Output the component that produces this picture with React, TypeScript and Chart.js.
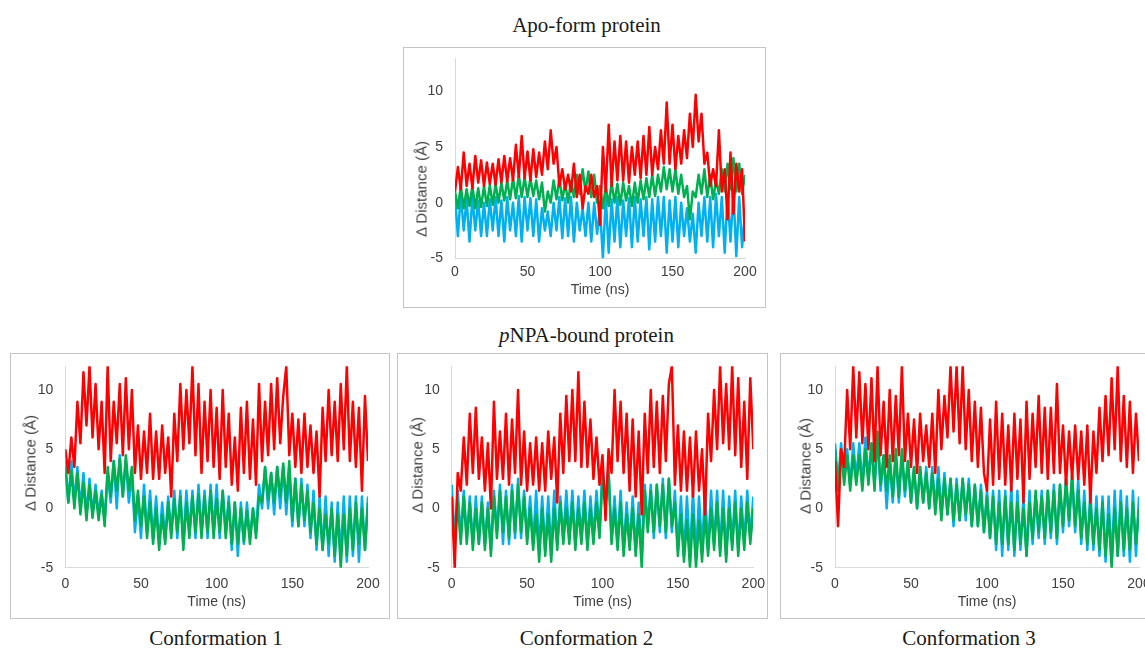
import React, { useEffect, useRef } from "react";
import { Chart, registerables } from "chart.js";

Chart.register(...registerables);

// ---------- data (sampled every 2 ns, values in Å) ----------
const TIME_NS = Array.from({ length: 101 }, (_, i) => i * 2);
const Y_AXIS_LABEL = "\u0394 Distance (\u00c5)";
const X_AXIS_LABEL = "Time (ns)";

const APO_RED = [
  1.0, 3.2, 1.2, 4.5, 1.5, 3.5, 1.3, 4.2, 1.8, 3.8,
  1.5, 3.6, 1.7, 3.5, 1.6, 3.9, 1.8, 4.2, 1.9, 4.0,
  2.0, 5.2, 2.3, 6.0, 2.2, 4.6, 2.0, 4.8, 2.3, 4.5,
  2.5, 5.5, 3.0, 6.5, 3.5, 5.0, 1.5, 3.0, 1.2, 2.5,
  1.0, 3.5, 0.5, 2.5, -0.5, 1.5, 0.8, 2.5, 0.5, 1.5,
  -2.0, 5.0, 1.0, 7.0, 1.5, 5.5, 2.0, 6.0, 2.0, 5.5,
  1.8, 5.0, 2.5, 5.5, 2.2, 6.0, 2.5, 6.8, 2.5, 5.0,
  3.0, 6.5, 3.5, 9.0, 3.5, 7.0, 3.0, 6.0, 3.5, 6.5,
  4.0, 8.0, 5.0, 9.7, 5.5, 8.0, 3.5, 4.5, 1.5, 3.0,
  1.5, 6.5, 1.0, 3.0, -1.5, 4.5, -1.0, 3.5, 1.0, 3.0,
  -3.5,
];
const APO_GREEN = [
  1.0, -0.5, 1.5, -0.5, 1.2, -0.3, 1.5, -0.5, 1.3, -0.4,
  1.5, -0.3, 1.6, -0.2, 1.7, 0.0, 1.8, 0.2, 2.0, 0.3,
  2.2, 0.4, 2.5, 0.5, 2.3, 0.5, 2.2, 0.6, 2.0, 0.3,
  1.8, -0.8, 1.0, 0.0, 2.0, 0.3, 2.2, 0.2, 1.8, 0.0,
  2.0, 0.5, 2.5, 0.8, 3.0, 1.0, 2.8, 0.5, 2.5, 0.0,
  1.5, -0.5, 1.5, -0.3, 1.8, 0.0, 1.7, -0.2, 1.8, 0.2,
  1.5, -0.3, 1.8, 0.0, 2.0, 0.3, 2.2, 0.5, 2.5, 0.6,
  2.5, 1.0, 3.2, 1.2, 3.0, 1.0, 3.0, 0.8, 2.5, 0.5,
  1.5, -1.5, 1.0, 0.5, 2.5, 0.8, 3.0, 0.5, 2.5, 0.3,
  2.0, 0.8, 3.0, 1.0, 3.5, 1.2, 4.0, 1.0, 3.5, 0.8,
  2.5,
];
const APO_BLUE = [
  0.5, -3.0, 0.8, -2.5, 0.3, -3.5, 0.5, -2.5, 0.2, -3.0,
  0.0, -3.0, 0.3, -2.5, 0.5, -3.0, 0.2, -3.5, 0.5, -2.5,
  0.0, -3.0, 0.6, -3.5, 0.5, -2.5, 0.4, -3.0, 0.3, -3.5,
  -0.5, -2.5, -0.8, -3.0, 0.0, -2.5, 0.5, -3.2, 0.4, -3.0,
  0.5, -3.5, 0.0, -2.5, -0.5, -3.0, 0.0, -3.5, 0.0, -2.8,
  -0.5, -5.0, 0.5, -4.5, 0.3, -3.5, 0.5, -4.0, 0.2, -3.0,
  0.4, -4.0, 0.5, -3.5, 0.3, -3.0, 0.5, -4.2, 0.3, -3.5,
  0.5, -3.0, 0.5, -4.5, 0.2, -3.5, 0.5, -4.0, 0.0, -3.0,
  -0.5, -3.5, -1.0, -4.5, 0.0, -3.0, 0.5, -3.5, 0.5, -4.0,
  0.8, -3.0, 0.5, -4.5, 0.8, -3.5, 1.0, -4.8, 0.5, -4.0,
  -1.0,
];

const C1_RED = [
  5.0, 3.0, 6.0, 3.5, 9.0, 5.5, 11.5, 7.0, 12.0, 6.0,
  10.5, 5.0, 9.0, 3.0, 12.0, 4.0, 9.0, 5.5, 10.5, 4.5,
  11.0, 5.0, 10.0, 3.0, 7.0, 2.5, 6.5, 3.0, 8.0, 2.5,
  6.5, 2.5, 7.0, 3.0, 6.0, 1.0, 8.0, 4.0, 10.5, 5.0,
  10.0, 5.5, 12.0, 4.5, 10.5, 3.0, 9.0, 4.0, 10.0, 3.5,
  8.5, 2.5, 10.0, 3.5, 8.0, 2.0, 6.0, 1.5, 8.5, 3.0,
  9.0, 2.5, 7.5, 2.0, 10.5, 4.0, 9.0, 4.5, 10.5, 5.0,
  11.0, 5.5, 9.5, 12.0, 4.5, 8.0, 3.5, 7.5, 3.0, 8.0,
  3.5, 7.0, 3.0, 6.5, 1.0, 8.5, 4.0, 10.0, 4.5, 9.0,
  4.0, 10.5, 5.0, 12.0, 4.0, 9.0, 3.5, 8.5, 1.5, 9.5,
  4.0,
];
const C1_GREEN = [
  3.5, 0.5, 3.2, 0.0, 3.0, -0.5, 2.2, -1.0, 2.0, -0.8,
  1.5, -1.0, 1.2, -1.5, 3.5, 1.0, 4.0, 1.5, 4.2, 1.0,
  4.5, 1.5, 3.5, -1.0, 1.5, -1.5, 1.0, -2.5, 0.5, -3.0,
  0.0, -3.5, -0.5, -3.0, 0.5, -2.5, 0.8, -2.0, 1.0, -3.5,
  0.5, -2.5, 1.0, -2.0, 1.2, -2.5, 1.0, -2.0, 1.5, -2.5,
  0.8, -2.0, 1.5, -2.5, 0.5, -3.0, 0.5, -3.0, 0.0, -2.8,
  -0.2, -3.0, 0.0, -2.5, 1.0, 0.5, 3.5, 0.8, 3.0, 0.5,
  3.5, 1.0, 3.8, 0.5, 4.0, -1.0, 2.5, -1.5, 2.0, -1.0,
  1.5, -2.0, 0.5, -3.0, 0.0, -3.5, -0.5, -3.0, 0.0, -4.0,
  -0.5, -5.0, -0.5, -4.0, 0.0, -3.5, 0.5, -3.0, 0.0, -3.5,
  0.5,
];
const C1_BLUE = [
  4.0, 0.5, 4.0, 0.5, 3.5, 0.0, 3.0, -0.5, 2.5, -0.5,
  2.0, -0.5, 1.5, -1.0, 3.0, 0.5, 4.0, 0.0, 4.5, 1.0,
  4.0, 0.5, 3.0, -2.0, 1.0, -2.5, 2.0, -2.0, 1.5, -2.5,
  1.0, -3.0, 0.5, -2.5, 1.0, -2.0, 1.5, -2.5, 1.5, -3.0,
  1.5, -2.0, 1.5, -2.5, 2.0, -2.0, 1.5, -2.5, 2.0, -2.0,
  2.0, -2.5, 1.5, -2.0, 1.0, -3.5, 0.5, -4.0, 0.5, -3.0,
  0.5, -2.5, 0.0, -2.0, 2.0, 0.0, 3.5, 0.0, 3.0, -0.5,
  3.5, 0.0, 3.5, -0.5, 3.0, -1.5, 2.5, -1.5, 2.5, -1.5,
  2.0, -2.5, 1.5, -3.5, 1.0, -3.5, 1.0, -4.0, 0.5, -4.5,
  0.5, -4.0, 1.0, -4.5, 1.0, -4.0, 1.0, -4.5, 1.0, -3.5,
  1.0,
];

const C2_RED = [
  1.0, -5.0, 3.0, 1.5, 6.0, 2.0, 8.0, 3.0, 8.5, 2.5,
  6.0, 1.5, 5.5, 0.0, 9.0, 2.5, 6.5, 2.5, 8.0, 2.0,
  7.5, 3.0, 10.0, 2.0, 6.5, 1.5, 5.5, 2.0, 6.0, 1.5,
  5.5, 1.5, 6.5, 2.5, 6.0, 0.5, 8.0, 3.0, 9.5, 4.0,
  10.0, 4.0, 11.5, 3.5, 9.0, 3.5, 7.5, 2.5, 6.0, 2.0,
  4.5, -1.0, 5.0, 3.0, 10.0, 4.0, 9.0, 3.0, 8.0, 1.5,
  7.5, 1.0, 6.5, -0.5, 8.0, 3.0, 10.0, 3.5, 9.0, 3.0,
  9.5, 4.0, 10.5, 12.0, 2.0, 7.0, 1.5, 6.5, 1.5, 6.0,
  1.0, 6.5, 1.5, 5.0, -0.5, 8.0, 4.0, 10.0, 5.0, 12.0,
  5.5, 10.5, 5.0, 12.0, 4.5, 11.0, 3.5, 9.0, 2.5, 11.0,
  5.0,
];
const C2_GREEN = [
  1.0, -3.5, 0.5, -3.0, 1.0, -3.0, 0.5, -3.5, 0.0, -3.0,
  0.5, -3.5, 0.0, -4.0, 1.0, -2.5, 1.5, -2.0, 1.0, -2.5,
  1.5, -2.0, 2.0, -2.0, 1.0, -3.0, 0.0, -3.5, -0.5, -4.5,
  0.0, -4.0, -0.5, -4.5, 0.0, -3.5, 0.5, -3.0, 0.0, -3.0,
  0.5, -3.5, 0.0, -3.0, 0.5, -3.5, 0.0, -3.0, 0.5, -2.5,
  2.5, 0.0, 3.0, -3.0, 0.0, -3.5, 0.5, -4.0, -0.5, -3.5,
  0.0, -4.0, -0.5, -5.0, 1.5, -2.0, 1.5, -2.0, 2.0, -1.5,
  2.0, -2.0, 2.5, -1.5, 0.5, -4.0, -0.5, -4.5, -1.0, -5.0,
  -0.5, -5.0, -1.0, -4.5, -0.5, -4.0, 0.0, -3.5, 0.5, -4.0,
  0.0, -4.5, 0.0, -3.5, 0.5, -4.0, 0.0, -3.5, 0.5, -3.0,
  0.0,
];
const C2_BLUE = [
  2.0, -2.5, 1.5, -2.5, 1.5, -2.5, 1.0, -3.0, 1.0, -3.0,
  1.0, -3.0, 0.5, -3.5, 1.5, -2.0, 2.0, -3.0, 1.5, -3.0,
  2.0, -2.5, 2.5, -2.5, 1.5, -2.5, 1.0, -3.0, 1.5, -3.5,
  1.0, -3.5, 1.0, -3.5, 1.5, -3.0, 1.0, -2.5, 1.5, -2.5,
  1.5, -3.0, 1.0, -2.5, 1.5, -3.0, 1.0, -2.5, 1.5, -2.0,
  3.5, 0.5, 3.5, -2.5, 1.0, -3.0, 1.5, -3.5, 0.5, -3.0,
  1.0, -3.5, 0.5, -4.0, 2.0, -1.5, 2.0, -2.5, 2.0, -2.0,
  2.5, -2.5, 2.5, -2.0, 1.5, -3.5, 1.0, -4.0, 1.0, -4.0,
  1.5, -4.0, 1.0, -3.5, 1.5, -3.5, 1.5, -3.0, 1.5, -3.5,
  1.5, -4.0, 1.0, -3.0, 1.5, -3.5, 1.0, -3.0, 1.5, -2.5,
  1.0,
];

const C3_RED = [
  4.0, -1.5, 5.0, 3.5, 10.0, 5.0, 12.0, 6.0, 11.5, 5.5,
  10.5, 5.0, 11.0, 4.0, 12.0, 4.5, 9.0, 3.5, 10.0, 4.0,
  9.5, 4.5, 12.0, 4.0, 8.0, 3.5, 7.5, 3.0, 8.0, 4.0,
  7.0, 3.5, 8.0, 3.0, 10.0, 5.0, 9.5, 6.0, 12.0, 6.5,
  12.0, 5.5, 12.0, 5.0, 10.0, 4.0, 9.0, 3.5, 8.5, 3.0,
  1.5, 7.5, 2.0, 9.0, 2.5, 8.0, 2.0, 7.0, 1.5, 8.0,
  2.5, 7.5, 0.5, 9.0, 2.5, 8.0, 3.5, 9.5, 3.0, 8.5,
  2.5, 8.5, 3.0, 10.5, 3.0, 7.0, 2.0, 6.5, 2.5, 7.0,
  2.5, 6.5, 2.0, 7.0, 0.5, 6.5, 3.0, 8.5, 4.0, 9.5,
  4.5, 11.0, 5.0, 12.0, 4.0, 9.5, 3.5, 9.0, 3.0, 8.0,
  4.0,
];
const C3_GREEN = [
  5.0, 1.5, 5.0, 2.0, 4.5, 1.5, 4.5, 2.0, 4.5, 1.5,
  5.0, 2.0, 5.5, 1.5, 6.5, 2.0, 4.5, 1.5, 4.5, 1.0,
  5.0, 1.0, 5.0, 1.5, 4.0, 0.5, 3.5, 0.0, 3.5, 0.5,
  3.0, 0.0, 3.0, -0.5, 2.5, -1.0, 2.5, -0.5, 2.5, -1.0,
  2.0, -1.0, 2.5, -0.5, 2.0, -1.5, 2.0, -1.5, 1.5, -2.0,
  1.0, -2.5, 1.0, -3.0, 0.5, -3.0, 1.0, -3.0, 0.5, -3.5,
  0.5, -3.0, 0.0, -4.0, 0.5, -2.5, 1.5, -2.0, 1.0, -2.5,
  1.5, -2.0, 1.5, -2.5, 2.0, -1.5, 2.5, -1.0, 3.0, -1.5,
  1.5, -2.5, 0.5, -3.0, 0.5, -3.0, 0.0, -3.5, 0.5, -4.0,
  -0.5, -5.0, 0.0, -4.0, 0.5, -3.5, 0.0, -3.5, 0.5, -3.0,
  0.0,
];
const C3_BLUE = [
  5.5, 2.0, 5.5, 2.5, 5.0, 2.0, 5.5, 2.5, 5.5, 2.0,
  6.0, 2.5, 5.5, 2.0, 6.0, 1.5, 4.5, 0.0, 4.0, 0.5,
  4.5, 0.5, 4.5, 1.0, 4.0, 0.5, 3.5, 0.0, 3.5, 0.5,
  3.5, 0.0, 3.5, 0.0, 3.5, -0.5, 3.0, -0.5, 2.5, -1.5,
  2.5, -1.0, 2.5, -1.0, 2.5, -1.5, 2.0, -1.5, 2.0, -2.0,
  1.5, -2.5, 1.5, -3.5, 1.5, -4.0, 1.5, -3.5, 2.0, -4.0,
  1.5, -3.5, 1.0, -4.0, 1.5, -3.0, 1.0, -2.5, 1.5, -3.0,
  1.5, -2.5, 2.0, -3.0, 2.0, -2.0, 2.5, -1.5, 2.5, -2.0,
  2.5, -3.0, 1.5, -3.5, 1.5, -3.5, 1.0, -4.0, 1.0, -4.5,
  1.0, -4.5, 1.5, -4.0, 1.5, -4.0, 1.0, -4.5, 1.5, -4.0,
  1.0,
];

// ---------- styles ----------
const RED = "#FF0000";
const GREEN = "#00B050";
const BLUE = "#00B0F0";
const TEXT = "#404040";
const AXIS = "#D9D9D9";
const FRAME = "#C4C4C4";
const SANS = "'Liberation Sans', Arial, sans-serif";
const SERIF = "'Liberation Serif', 'Times New Roman', serif";

type PanelSpec = {
  red: number[];
  green: number[];
  blue: number[];
  yMax: number;
  box: { left: number; top: number; width: number; height: number };
  yAxisWidth: number;
  xAxisHeight: number;
  padTop: number;
  padRight: number;
  xTickPad: number;
  xTitlePad: number;
  yTitle: { x: number; y: number };
};

const PANELS: PanelSpec[] = [
  {
    red: APO_RED, green: APO_GREEN, blue: APO_BLUE, yMax: 13,
    box: { left: 403, top: 47, width: 363, height: 261 },
    yAxisWidth: 51, xAxisHeight: 48.7, padTop: 10, padRight: 20,
    xTickPad: 5, xTitlePad: 8, yTitle: { x: 420.5, y: 189 },
  },
  {
    red: C1_RED, green: C1_GREEN, blue: C1_BLUE, yMax: 12,
    box: { left: 10, top: 353, width: 380, height: 266 },
    yAxisWidth: 54.3, xAxisHeight: 50.3, padTop: 12.3, padRight: 21,
    xTickPad: 8.5, xTitlePad: 7.6, yTitle: { x: 29.5, y: 463 },
  },
  {
    red: C2_RED, green: C2_GREEN, blue: C2_BLUE, yMax: 12,
    box: { left: 397, top: 353, width: 371, height: 266 },
    yAxisWidth: 53.7, xAxisHeight: 50.3, padTop: 12.3, padRight: 13.7,
    xTickPad: 8.5, xTitlePad: 7.6, yTitle: { x: 417, y: 465 },
  },
  {
    red: C3_RED, green: C3_GREEN, blue: C3_BLUE, yMax: 12,
    box: { left: 780, top: 353, width: 380, height: 266 },
    yAxisWidth: 54, xAxisHeight: 50.3, padTop: 12.3, padRight: 20,
    xTickPad: 8.5, xTitlePad: 7.6, yTitle: { x: 805, y: 466 },
  },
];

function Panel({ spec }: { spec: PanelSpec }) {
  const ref = useRef<HTMLCanvasElement | null>(null);
  const cw = spec.box.width - 2;
  const ch = spec.box.height - 2;

  useEffect(() => {
    if (!ref.current) return;
    const mk = (label: string, vals: number[], color: string) => ({
      label,
      data: vals.map((y, i) => ({ x: TIME_NS[i], y })),
      borderColor: color,
      backgroundColor: color,
      borderWidth: 2.5,
      borderJoinStyle: "round",
      pointRadius: 0,
      tension: 0,
      fill: false,
    });
    const tickFont = { family: SANS, size: 14 };
    const chart = new Chart(ref.current, {
      type: "line",
      data: {
        datasets: [
          mk("Red", spec.red, RED),
          mk("Green", spec.green, GREEN),
          mk("Blue", spec.blue, BLUE),
        ],
      },
      options: {
        animation: false,
        responsive: false,
        maintainAspectRatio: false,
        events: [],
        layout: { padding: { left: 0, right: spec.padRight, top: spec.padTop, bottom: 0 } },
        plugins: { legend: { display: false }, tooltip: { enabled: false }, title: { display: false } },
        scales: {
          x: {
            type: "linear",
            min: 0,
            max: 200,
            ticks: { stepSize: 50, padding: spec.xTickPad, color: TEXT, font: tickFont, maxRotation: 0, autoSkip: false },
            grid: { display: false, drawTicks: false },
            border: { display: true, color: AXIS, width: 1 },
            title: {
              display: true,
              text: X_AXIS_LABEL,
              color: TEXT,
              font: { family: SANS, size: 14 },
              padding: { top: 0, bottom: spec.xTitlePad },
            },
            afterFit: (s: any) => {
              s.height = spec.xAxisHeight;
              s.paddingLeft = 0;
              s.paddingRight = 0;
            },
          },
          y: {
            type: "linear",
            min: -5,
            max: spec.yMax,
            ticks: { stepSize: 5, includeBounds: false, padding: 12, color: TEXT, font: tickFont },
            grid: { display: false, drawTicks: false },
            border: { display: true, color: AXIS, width: 1 },
            afterFit: (s: any) => {
              s.width = spec.yAxisWidth;
              s.paddingTop = 0;
              s.paddingBottom = 0;
            },
          },
        },
      } as any,
    });
    return () => chart.destroy();
  }, []);

  return (
    <>
      <div
        style={{
          position: "absolute",
          left: spec.box.left,
          top: spec.box.top,
          width: spec.box.width,
          height: spec.box.height,
          border: `1px solid ${FRAME}`,
          boxSizing: "border-box",
          background: "#fff",
        }}
      />
      <canvas
        ref={ref}
        width={cw}
        height={ch}
        style={{ position: "absolute", left: spec.box.left + 1, top: spec.box.top + 1, width: cw, height: ch }}
      />
      <div
        style={{
          position: "absolute",
          left: spec.yTitle.x,
          top: spec.yTitle.y,
          transform: "translate(-50%, -50%) rotate(-90deg)",
          whiteSpace: "nowrap",
          fontFamily: SANS,
          fontSize: 15,
          lineHeight: "15px",
          color: TEXT,
        }}
      >
        {Y_AXIS_LABEL}
      </div>
    </>
  );
}

function Caption({ cx, baseline, children }: { cx: number; baseline: number; children: React.ReactNode }) {
  const fs = 21;
  return (
    <div
      style={{
        position: "absolute",
        left: cx - 200,
        width: 400,
        top: baseline - 0.8375 * fs,
        textAlign: "center",
        fontFamily: SERIF,
        fontSize: fs,
        lineHeight: 1,
        color: "#1a1a1a",
        whiteSpace: "nowrap",
      }}
    >
      {children}
    </div>
  );
}

export default function App() {
  return (
    <div
      style={{
        position: "fixed",
        left: 0,
        top: 0,
        width: 1145,
        height: 651,
        overflow: "hidden",
        background: "#fff",
      }}
    >
      <Caption cx={586.5} baseline={33}>Apo-form protein</Caption>
      <Caption cx={586.5} baseline={343}>
        <i>p</i>NPA-bound protein
      </Caption>
      {PANELS.map((p, i) => (
        <Panel key={i} spec={p} />
      ))}
      <Caption cx={216} baseline={646}>Conformation 1</Caption>
      <Caption cx={586.5} baseline={646}>Conformation 2</Caption>
      <Caption cx={969} baseline={646}>Conformation 3</Caption>
    </div>
  );
}
